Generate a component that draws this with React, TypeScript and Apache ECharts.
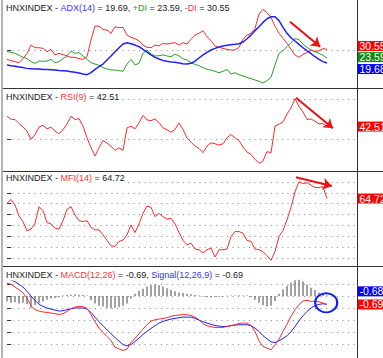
import React, { useEffect, useRef } from 'react';
import * as echarts from 'echarts';

// ---- data (one point per session) ----
const ADX = [18.2,17.6,17.1,16.6,16.1,15.5,15.3,15.0,15.0,14.7,
14.7,14.5,14.2,13.9,13.7,13.4,12.9,12.4,11.8,11.1,
10.5,12.1,14.7,16.8,18.9,22.1,25.3,28.7,31.8,34.7,
35.8,35.0,33.9,32.6,30.5,28.4,26.1,24.2,22.9,21.8,
21.1,20.5,20.3,19.7,19.2,18.9,19.5,21.3,23.7,26.1,
28.2,30.0,31.3,32.4,33.2,33.7,34.2,34.5,35.0,36.3,
38.9,41.8,45.3,48.4,51.8,54.7,56.3,56.3,53.2,47.9,
43.2,39.7,37.1,34.5,31.8,29.5,27.1,24.7,22.6,20.8,
19.69];
const PLUS_DI = [28.7,28.2,27.4,25.8,24.2,23.2,20.8,19.5,21.3,21.1,
21.3,22.6,20.0,20.8,23.2,25.3,29.2,27.4,27.9,25.3,
22.6,20.0,18.9,17.9,16.1,15.0,14.2,14.2,13.7,13.2,
18.9,22.6,18.2,19.5,27.4,30.0,26.8,25.3,25.5,26.1,
25.3,24.7,26.8,25.3,23.2,22.1,20.0,18.7,17.6,16.1,
14.7,14.2,13.2,12.1,13.2,14.7,11.1,12.1,10.5,9.5,
8.4,7.4,6.3,5.3,3.9,5.8,8.4,18.2,27.4,29.5,
32.6,35.8,38.9,38.4,34.7,32.1,30.0,28.7,27.4,25.8,
23.59];
const MINUS_DI = [22.6,21.6,20.8,20.0,23.2,27.4,33.9,31.8,31.8,31.3,
28.7,30.5,26.1,27.4,26.3,25.3,24.2,24.2,23.2,22.6,
24.7,37.9,48.9,48.9,46.3,45.8,43.2,48.4,47.6,47.9,
41.8,40.0,38.9,37.4,33.9,32.1,31.8,33.9,33.2,35.3,
34.7,35.3,35.8,33.9,35.8,34.7,38.4,41.8,43.2,45.3,
40.5,37.4,33.2,32.1,31.3,30.5,30.0,30.0,32.1,38.4,
41.8,43.2,47.1,58.4,62.1,59.5,55.8,48.9,43.2,39.2,
35.3,30.5,26.1,24.2,26.6,27.9,30.0,28.7,29.5,31.1,
30.55];
const RSI = [53.1,50.0,49.7,45.6,42.2,37.8,29.3,34.4,41.9,43.9,
40.2,41.9,37.8,35.1,39.2,45.3,53.1,49.7,50.7,42.9,
31.0,20.8,12.4,20.8,28.3,25.6,22.5,18.1,20.8,18.1,
41.2,42.9,40.2,46.3,54.1,49.3,48.6,50.3,46.6,41.2,
39.2,36.8,39.5,46.3,39.5,31.0,26.6,22.5,20.2,15.8,
22.5,25.9,24.9,23.6,24.9,31.0,34.4,31.0,28.3,21.5,
16.4,14.1,9.0,4.9,7.3,16.8,15.8,42.9,44.9,47.3,
55.4,61.5,71.0,63.2,57.5,49.7,50.3,48.0,45.3,45.6,
42.51];
const MFI = [60.3,63.9,58.8,48.8,43.6,35.2,36.7,42.1,57.3,53.6,
42.7,41.5,37.6,36.7,44.5,54.8,57.3,49.7,44.5,43.6,
44.5,38.5,36.1,36.1,31.5,26.4,21.5,20.9,25.5,26.7,
31.5,40.6,33.6,41.5,51.2,57.9,56.7,48.2,51.2,48.2,
45.8,46.7,41.5,33.6,26.4,22.4,23.9,18.5,17.9,14.8,
17.9,19.4,11.2,17.9,17.9,18.5,30.0,34.5,34.5,33.0,
26.4,25.5,18.5,17.9,16.1,12.4,8.2,16.4,30.0,35.5,
45.2,56.7,70.9,80.0,78.5,79.1,77.0,74.8,74.8,75.5,
64.72];
const MACD = [1.08,0.97,0.75,0.53,0.26,-0.16,-0.79,-1.12,-1.23,-1.31,
-1.34,-1.40,-1.45,-1.51,-1.45,-1.26,-1.04,-0.90,-0.85,-0.87,
-1.01,-1.53,-2.11,-2.64,-2.99,-3.33,-3.66,-4.21,-4.34,-4.48,
-4.37,-3.82,-3.49,-3.10,-2.72,-2.36,-2.06,-1.95,-1.89,-1.84,
-1.78,-1.67,-1.59,-1.56,-1.53,-1.53,-1.59,-1.73,-1.95,-2.28,
-2.44,-2.53,-2.58,-2.58,-2.58,-2.50,-2.42,-2.36,-2.25,-2.22,
-2.22,-2.42,-2.91,-3.68,-4.15,-4.29,-4.43,-4.01,-3.55,-2.91,
-2.31,-1.67,-1.12,-0.71,-0.40,-0.35,-0.43,-0.43,-0.46,-0.57,
-0.69];
const SIGNAL = [1.41,1.33,1.19,0.97,0.75,0.39,0.01,-0.35,-0.68,-0.85,
-0.98,-1.07,-1.15,-1.23,-1.20,-1.12,-1.04,-0.98,-0.98,-0.98,
-1.07,-1.34,-1.73,-2.11,-2.44,-2.77,-3.10,-3.41,-3.71,-3.99,
-4.10,-3.99,-3.74,-3.46,-3.16,-2.91,-2.66,-2.44,-2.22,-2.09,
-1.98,-1.89,-1.84,-1.78,-1.73,-1.73,-1.73,-1.84,-1.98,-2.11,
-2.22,-2.33,-2.42,-2.47,-2.50,-2.50,-2.44,-2.39,-2.36,-2.36,
-2.36,-2.44,-2.64,-2.91,-3.27,-3.52,-3.77,-3.82,-3.68,-3.49,
-3.27,-2.94,-2.50,-2.03,-1.62,-1.26,-0.98,-0.79,-0.68,-0.63,
-0.68];
const HIST = [-0.45,-0.55,-0.5,-0.6,-0.55,-0.65,-0.95,-0.75,-0.6,-0.45,
-0.3,-0.2,-0.15,-0.1,0.05,0.1,0.12,0.15,0.12,0.1,
0.05,-0.35,-0.6,-0.8,-0.85,-0.95,-1.0,-0.95,-0.9,-0.8,
-0.6,-0.2,0.2,0.45,0.6,0.8,0.9,0.95,0.9,0.8,
0.65,0.5,0.4,0.3,0.25,0.2,0.15,0.1,0.05,-0.05,
-0.1,-0.1,-0.08,-0.05,-0.05,0.03,0.05,0.05,0.08,0.06,
0.05,-0.1,-0.3,-0.55,-0.75,-0.85,-0.8,-0.4,0.2,0.55,
0.85,1.1,1.3,1.35,1.2,0.95,0.7,0.5,0.3,0.15,
0.05];

// reference levels (dotted lines / right-axis ticks)
const ADX_LEVELS = [30];
const RSI_LEVELS = [30, 70];
const MFI_LEVELS = [10, 20, 30, 40, 50, 60, 70, 80];
const MACD_LEVELS = [-4, -3, -2, -1, 0, 1];

// value tags on the right axis
const TAG_MINUS_DI = '30.55';
const TAG_PLUS_DI = '23.59';
const TAG_ADX = '19.68';
const TAG_RSI = '42.51';
const TAG_MFI = '64.72';
const TAG_SIGNAL = '-0.68';
const TAG_MACD = '-0.69';

const FONT = '"Liberation Sans", Arial, sans-serif';
const RED = '#ff2a2a';
const BLUE = '#1f1fff';
const GREEN = '#2e9e2e';
const X_MAX = 87.5;

const pts = (arr: number[]) => arr.map((v, i) => [i, v]);

function tag(value: number, text: string, color: string, dy: number) {
  return {
    yAxis: value,
    symbol: 'none',
    lineStyle: { color: 'rgba(0,0,0,0)', width: 0 },
    label: {
      show: true,
      position: 'end',
      distance: 0,
      formatter: text,
      color: '#fff',
      opacity: 1,
      backgroundColor: color,
      fontFamily: FONT,
      fontSize: 10.5,
      lineHeight: 10,
      padding: [0, 2, 0, 2.5],
      offset: [0, dy],
    },
  };
}

function arrow(x1: number, y1: number, x2: number, y2: number) {
  return [
    { coord: [x1, y1], symbol: 'none', lineStyle: { color: '#ee1111', width: 2, opacity: 1, type: 'solid' }, label: { show: false } },
    { coord: [x2, y2], symbol: 'arrow', symbolSize: 9 },
  ];
}

function yAxisFor(gi: number, min: number, max: number, levels: number[]) {
  return {
    gridIndex: gi,
    type: 'value',
    position: 'right',
    min,
    max,
    axisLine: { show: false },
    axisTick: { show: true, inside: false, length: 4, customValues: levels, lineStyle: { color: '#333' } },
    axisLabel: { show: false },
    splitLine: { show: true, lineStyle: { color: '#8a8a8a', width: 1, type: [1, 4.5] } },
  };
}

function titleText(y: number, text: string) {
  const base = { fontFamily: FONT, fontSize: 9, fill: '#1a1a1a' };
  return {
    type: 'text',
    x: 6,
    y,
    z: 100,
    style: {
      text,
      verticalAlign: 'middle',
      backgroundColor: '#fff',
      padding: [1, 1, 1, 0],
      font: `9px ${FONT}`,
      rich: {
        k: { ...base },
        b: { ...base, fill: '#3333ff' },
        g: { ...base, fill: '#22a022' },
        r: { ...base, fill: '#ff3333' },
      },
    },
  };
}

export default function App() {
  const ref = useRef<HTMLDivElement>(null);
  useEffect(() => {
    if (!ref.current) return;
    const chart = echarts.init(ref.current, null, { renderer: 'svg' });
    const grids = [
      { left: 7, width: 350, top: 0, height: 88 },
      { left: 7, width: 350, top: 89, height: 82 },
      { left: 7, width: 350, top: 172, height: 94 },
      { left: 7, width: 350, top: 267, height: 91 },
    ];
    const xAxes = grids.map((_, i) => ({ gridIndex: i, type: 'value', min: 0, max: X_MAX, show: false }));
    const yAxes = [
      yAxisFor(0, 0, 69.5, ADX_LEVELS),
      yAxisFor(1, -3, 81, RSI_LEVELS),
      yAxisFor(2, 3, 89, MFI_LEVELS),
      yAxisFor(3, -5.1, 2.4, MACD_LEVELS),
    ];
    const line = (data: number[], gi: number, color: string, width: number, extra: any = {}) => ({
      type: 'line',
      xAxisIndex: gi,
      yAxisIndex: gi,
      data: pts(data),
      showSymbol: false,
      symbol: 'none',
      lineStyle: { color, width },
      itemStyle: { color },
      z: 3,
      ...extra,
    });
    const mk = (data: any[]) => ({ silent: true, symbol: 'none', animation: false, data });

    chart.setOption({
      animation: false,
      backgroundColor: '#fff',
      grid: grids,
      xAxis: xAxes,
      yAxis: yAxes,
      series: [
        line(PLUS_DI, 0, GREEN, 1, { markLine: mk([tag(PLUS_DI[PLUS_DI.length - 1], TAG_PLUS_DI, '#108a10', -1)]) }),
        line(MINUS_DI, 0, RED, 1, {
          markLine: mk([
            tag(MINUS_DI[MINUS_DI.length - 1], TAG_MINUS_DI, '#ff0000', -3.3),
            arrow(70.75, 52.3, 78.3, 32.6),
          ]),
        }),
        line(ADX, 0, BLUE, 1.5, { markLine: mk([tag(ADX[ADX.length - 1], TAG_ADX, '#0000ff', 6)]) }),
        line(RSI, 1, RED, 1, {
          markLine: mk([tag(RSI[RSI.length - 1], TAG_RSI, '#ff0000', 0), arrow(72.25, 72.1, 81.5, 40.7)]),
        }),
        line(MFI, 2, RED, 1, {
          markLine: mk([tag(MFI[MFI.length - 1], TAG_MFI, '#ff0000', 0), arrow(72.25, 84.2, 81.2, 76.2)]),
        }),
        {
          type: 'bar',
          xAxisIndex: 3,
          yAxisIndex: 3,
          data: pts(HIST),
          barWidth: 1,
          itemStyle: { color: '#444' },
          z: 2,
        },
        line(SIGNAL, 3, BLUE, 1, {
          markLine: mk([tag(SIGNAL[SIGNAL.length - 1], TAG_SIGNAL, '#0000ff', -13)]),
          markPoint: {
            silent: true,
            animation: false,
            data: [
              {
                coord: [79.8, -0.55],
                symbol: 'circle',
                symbolSize: [22, 19],
                itemStyle: { color: 'rgba(0,0,0,0)', borderColor: '#0a1aff', borderWidth: 2 },
                label: { show: false },
              },
            ],
          },
        }),
        line(MACD, 3, RED, 1, { markLine: mk([tag(MACD[MACD.length - 1], TAG_MACD, '#ff0000', 0)]) }),
      ],
      graphic: [
        { type: 'line', z: 50, shape: { x1: 2, y1: 0, x2: 2, y2: 358 }, style: { stroke: '#b4b4b4', lineWidth: 2 } },
        { type: 'line', z: 50, shape: { x1: 357.5, y1: 0, x2: 357.5, y2: 358 }, style: { stroke: '#333', lineWidth: 1 } },
        { type: 'line', z: 50, shape: { x1: 3, y1: 88.5, x2: 383, y2: 88.5 }, style: { stroke: '#333', lineWidth: 1 } },
        { type: 'line', z: 50, shape: { x1: 3, y1: 171.5, x2: 383, y2: 171.5 }, style: { stroke: '#333', lineWidth: 1 } },
        { type: 'line', z: 50, shape: { x1: 3, y1: 266.5, x2: 383, y2: 266.5 }, style: { stroke: '#333', lineWidth: 1 } },
        titleText(7.5, '{k|HNXINDEX - }{b|ADX(14)}{k| = 19.69, }{g|+DI}{k| = 23.59, }{r|-DI}{k| = 30.55}'),
        titleText(97.3, '{k|HNXINDEX - }{r|RSI(9)}{k| = 42.51}'),
        titleText(178.3, '{k|HNXINDEX - }{r|MFI(14)}{k| = 64.72}'),
        titleText(275, '{k|HNXINDEX - }{r|MACD(12,26)}{k| = -0.69, }{b|Signal(12,26,9)}{k| = -0.69}'),
      ],
    });
    return () => chart.dispose();
  }, []);
  return (
    <div
      ref={ref}
      style={{ position: 'fixed', left: 0, top: 0, width: 383, height: 358, background: '#fff' }}
    />
  );
}
